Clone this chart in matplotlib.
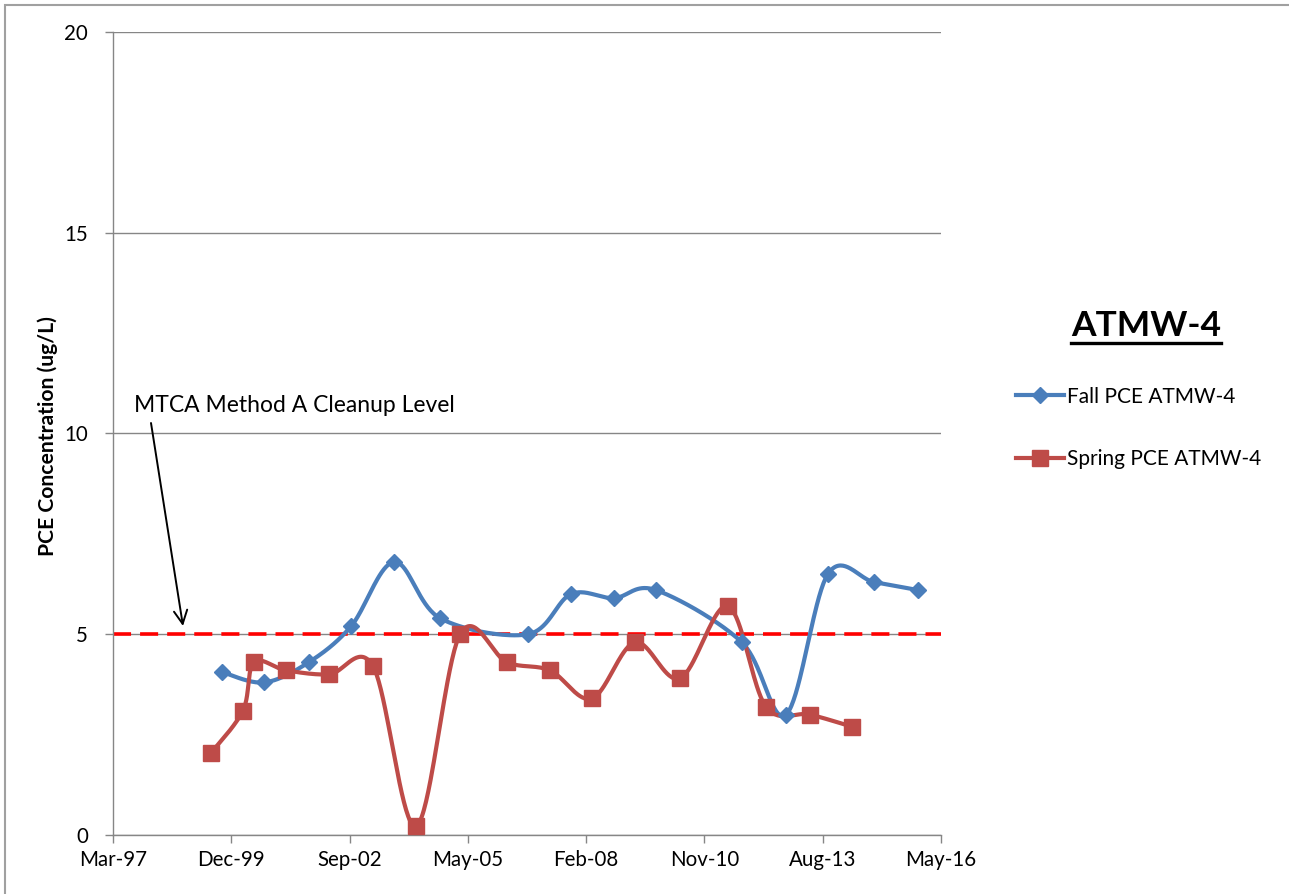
import numpy as np
import matplotlib
matplotlib.use("Agg")
import matplotlib.pyplot as plt
import matplotlib.dates as mdates
from matplotlib.lines import Line2D
from datetime import date, timedelta

plt.rcParams['font.family'] = ['Lato', 'DejaVu Sans']

# ---------------- data ----------------
fall_dates = ["1999-09-18", "2000-09-08", "2001-09-20", "2002-09-14", "2003-09-13",
              "2004-10-05", "2006-10-18", "2007-10-17", "2008-10-14", "2009-10-04",
              "2011-09-30", "2012-10-07", "2013-09-27", "2014-10-21", "2015-10-28"]
fall_values = [4.06, 3.8, 4.3, 5.2, 6.8, 5.4, 5.0, 6.0, 5.9, 6.1, 4.8, 3.0, 6.5, 6.3, 6.1]

spring_dates = ["1999-06-17", "2000-03-14", "2000-06-15", "2001-03-14", "2002-03-12",
                "2003-03-19", "2004-03-16", "2005-03-23", "2006-04-24", "2007-04-22",
                "2008-04-11", "2009-04-10", "2010-04-25", "2011-06-04", "2012-04-20",
                "2013-04-27", "2014-04-16"]
spring_values = [2.04, 3.1, 4.3, 4.1, 4.0, 4.2, 0.22, 5.0, 4.3, 4.1, 3.4, 4.8, 3.9, 5.7, 3.2, 3.0, 2.7]

cleanup_level = 5.0
series_labels = ["Fall PCE ATMW-4", "Spring PCE ATMW-4"]
legend_title = "ATMW-4"
y_label = "PCE Concentration (ug/L)"
annotation_text = "MTCA Method A Cleanup Level"
y_ticks = [0, 5, 10, 15, 20]
x_start = "1997-03-11"
x_major_days = 1000
x_n_ticks = 8

BLUE = "#4A7EBB"
RED = "#BE4B48"


def smooth(xs, ys, n=40):
    """Excel-like smoothed line (Catmull-Rom Bezier segments)."""
    xs = np.asarray(xs, float)
    ys = np.asarray(ys, float)
    P = np.column_stack([xs, ys])
    Pe = np.vstack([P[0], P, P[-1]])
    out = []
    t = np.linspace(0, 1, n)[:, None]
    for i in range(len(P) - 1):
        p0, p1, p2, p3 = Pe[i], Pe[i + 1], Pe[i + 2], Pe[i + 3]
        c1 = p1 + (p2 - p0) / 6.0
        c2 = p2 - (p3 - p1) / 6.0
        seg = ((1 - t) ** 3) * p1 + 3 * ((1 - t) ** 2) * t * c1 + 3 * (1 - t) * t ** 2 * c2 + t ** 3 * p2
        out.append(seg if i == 0 else seg[1:])
    S = np.vstack(out)
    return S[:, 0], S[:, 1]


def to_num(ds):
    return mdates.date2num([np.datetime64(d) for d in ds])


W, H = 1289, 894
fig = plt.figure(figsize=(W / 100, H / 100), dpi=100)
ax = fig.add_axes([113 / W, 1 - 835 / H, (941 - 113) / W, (835 - 32) / H])

# figure border (left and top visible)
fig.add_artist(plt.Rectangle((5 / W, -0.1), 1.2, (889 / H) + 0.1, transform=fig.transFigure,
                             fill=False, edgecolor="#A0A0A0", linewidth=1.5, clip_on=False))

x0 = date.fromisoformat(x_start)
xticks = [x0 + timedelta(days=x_major_days * i) for i in range(x_n_ticks)]
ax.set_xlim(mdates.date2num(xticks[0]), mdates.date2num(xticks[-1]))
ax.set_xticks(mdates.date2num(xticks))
ax.xaxis.set_major_formatter(mdates.DateFormatter("%b-%y"))
ax.set_ylim(0, 20)
ax.set_yticks(y_ticks)

ax.grid(axis="y", color="#868686", linewidth=1.0)
ax.set_axisbelow(True)
for s in ["top", "right"]:
    ax.spines[s].set_visible(False)
for s in ["left", "bottom"]:
    ax.spines[s].set_color("#868686")
    ax.spines[s].set_linewidth(1.0)
ax.tick_params(axis="both", direction="out", length=6, width=1, color="#868686",
               labelsize=14.8, pad=5)
ax.tick_params(axis="y", pad=12)

# cleanup level line
ax.axhline(cleanup_level, color="#FF0000", linewidth=2.6, linestyle=(0, (5, 2.5)), zorder=2)

fx = to_num(fall_dates)
sx = to_num(spring_dates)
for xs, ys, col, mk, ms in [(fx, fall_values, BLUE, "D", 8.5), (sx, spring_values, RED, "s", 12)]:
    cx, cy = smooth(xs, ys)
    ax.plot(cx, cy, color=col, linewidth=3.0, zorder=3, solid_capstyle="round")
    ax.plot(xs, ys, linestyle="none", marker=mk, markersize=ms, color=col,
            markeredgecolor=col, zorder=4)

fig.text(48 / W, 1 - 436 / H, y_label, fontsize=15.2, fontweight="bold",
         rotation=90, ha="center", va="center")

ax.text((134 - 113) / 828, (835 - 406) / 803, annotation_text, transform=ax.transAxes,
        fontsize=16.5, ha="left", va="center")
ax.annotate("", xy=((183 - 113) / 828, (835 - 626) / 803),
            xytext=((151 - 113) / 828, (835 - 423) / 803), xycoords="axes fraction",
            textcoords="axes fraction",
            arrowprops=dict(arrowstyle="->", color="black", lw=1.4, mutation_scale=24,
                            shrinkA=0, shrinkB=0))

# legend title with underline
t = fig.text(1146 / W, 1 - 326 / H, legend_title, fontsize=25.5, fontweight="bold",
             ha="center", va="center")
fig.canvas.draw()
bb = t.get_window_extent()
fig.add_artist(Line2D([bb.x0 / W, bb.x1 / W], [(H - 343) / H, (H - 343) / H],
                      transform=fig.transFigure, color="black", linewidth=2.4))

handles = [Line2D([], [], color=BLUE, linewidth=3, marker="D", markersize=8.5),
           Line2D([], [], color=RED, linewidth=3, marker="s", markersize=12)]
leg = fig.legend(handles, series_labels, loc="upper left",
                 bbox_to_anchor=(997 / W, 1 - 368 / H), frameon=False, fontsize=15,
                 handlelength=2.3, handletextpad=0.15, labelspacing=2.05)

fig.savefig("out.png", dpi=100)
